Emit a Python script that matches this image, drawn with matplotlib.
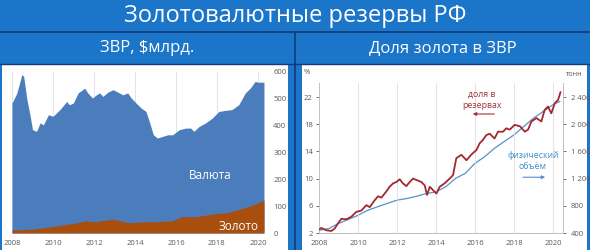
import matplotlib
matplotlib.use("Agg")
import matplotlib.pyplot as plt
from matplotlib.patches import Rectangle
from matplotlib.ticker import FuncFormatter

plt.rcParams["font.family"] = ["Open Sans", "DejaVu Sans"]

# -------------------------
# Data
# -------------------------

# left: reserves total and gold, $bn
total_years = [2008.0, 2008.24, 2008.48, 2008.57, 2008.73, 2008.89, 2009.0, 2009.2, 2009.37,
               2009.53, 2009.78, 2010.0, 2010.34, 2010.67, 2010.8, 2010.99, 2011.23, 2011.55,
               2011.7, 2011.93, 2012.12, 2012.28, 2012.44, 2012.68, 2012.93, 2013.17, 2013.41,
               2013.65, 2013.82, 2014.06, 2014.3, 2014.54, 2014.7, 2014.9, 2015.1, 2015.35,
               2015.6, 2015.84, 2016.16, 2016.48, 2016.72, 2016.88, 2017.13, 2017.45, 2017.77,
               2018.1, 2018.42, 2018.74, 2019.07, 2019.39, 2019.63, 2019.87, 2020.0, 2020.3]
total_values = [484, 522, 590, 584, 497, 435, 385, 379, 410,
                403, 441, 435, 460, 490, 478, 484, 522, 540,
                522, 503, 515, 522, 509, 525, 534, 525, 515,
                522, 503, 484, 466, 453, 416, 366, 354, 360,
                366, 366, 385, 391, 391, 379, 397, 410, 428,
                453, 457, 460, 478, 522, 540, 565, 562, 562]

gold_years = [2008.0, 2009.0, 2010.0, 2011.0, 2011.6, 2012.0, 2012.9, 2013.3, 2013.6, 2014.0,
              2014.5, 2015.0, 2015.8, 2016.3, 2017.0, 2017.5, 2018.0, 2018.5, 2019.0, 2019.5,
              2020.0, 2020.3]
gold_values = [11, 14, 24, 36, 45, 42, 51, 46, 39, 39,
               42, 42, 45, 61, 61, 67, 73, 76, 86, 98,
               111, 123]

# right: gold share in reserves, %
share_years = [2008.0, 2008.12, 2008.38, 2008.63, 2008.8, 2008.97, 2009.15, 2009.4, 2009.66,
               2009.91, 2010.17, 2010.43, 2010.6, 2010.85, 2011.03, 2011.2, 2011.45, 2011.62,
               2011.8, 2011.97, 2012.14, 2012.3, 2012.48, 2012.65, 2012.82, 2013.08, 2013.25,
               2013.42, 2013.54, 2013.68, 2013.85, 2014.02, 2014.19, 2014.44, 2014.7, 2014.87,
               2015.04, 2015.3, 2015.56, 2015.8, 2016.07, 2016.24, 2016.41, 2016.58, 2016.75,
               2017.0, 2017.18, 2017.44, 2017.6, 2017.78, 2018.03, 2018.3, 2018.55, 2018.72,
               2018.89, 2019.15, 2019.4, 2019.57, 2019.74, 2019.91, 2020.09, 2020.26, 2020.38]
share_values = [2.5, 2.74, 2.4, 2.3, 2.64, 3.4, 4.1, 4.0, 4.4,
                5.1, 5.3, 6.1, 5.8, 6.8, 7.4, 7.2, 8.1, 8.8,
                9.3, 9.5, 9.9, 9.3, 8.9, 9.5, 10.0, 9.7, 9.5,
                9.0, 7.6, 8.8, 8.3, 7.8, 8.8, 9.3, 10.0, 10.5,
                13.0, 13.5, 12.7, 13.5, 14.2, 15.2, 15.7, 16.4, 16.6,
                15.9, 16.9, 16.9, 17.4, 17.2, 17.9, 17.7, 16.9, 17.2,
                18.4, 18.9, 18.4, 20.1, 20.6, 19.6, 21.1, 21.6, 22.7]

# right: physical volume, tonnes
tonnes_years = [2008.0, 2008.5, 2009.0, 2009.5, 2010.0, 2010.5, 2011.0, 2011.5, 2012.0,
                2012.5, 2013.0, 2013.5, 2014.0, 2014.5, 2015.0, 2015.5, 2016.0, 2016.5,
                2017.0, 2017.5, 2018.0, 2018.5, 2019.0, 2019.5, 2020.0, 2020.35]
tonnes_values = [440, 465, 540, 600, 660, 735, 785, 835, 883,
                 907, 940, 980, 1005, 1080, 1203, 1277, 1425, 1523,
                 1646, 1745, 1843, 1966, 2090, 2188, 2287, 2336]

year_ticks = [2008, 2010, 2012, 2014, 2016, 2018, 2020]

# -------------------------
# Colours
# -------------------------

band = "#1b75c9"
navy = "#123a7a"
fx_blue = "#4b7dbc"
gold_col = "#a84e0e"
red_line = "#a3282f"
blue_line = "#5a90c8"
tick_col = "#595959"
grid_col = "#dedede"

W, H = 590, 250
fig = plt.figure(figsize=(W / 100, H / 100), dpi=100, facecolor=band)


def box(x0, y0, x1, y1):
    # pixel box (top-left origin) -> figure fraction rect
    return [x0 / W, 1 - y1 / H, (x1 - x0) / W, (y1 - y0) / H]


# white panels and separators
for x0, x1 in [(2, 288), (302, 587)]:
    r = box(x0, 65, x1, 250)
    fig.add_artist(Rectangle((r[0], r[1]), r[2], r[3], transform=fig.transFigure,
                             facecolor="white", edgecolor="none", zorder=0))
fig.add_artist(plt.Line2D([0, 1], [1 - 31.5 / H] * 2, color=navy, lw=1.2, zorder=1))
fig.add_artist(plt.Line2D([0, 1], [1 - 64 / H] * 2, color=navy, lw=1.0, zorder=1))
fig.add_artist(plt.Line2D([295 / W] * 2, [0, 1 - 32 / H], color=navy, lw=1.2, zorder=1))

fig.text(0.5, 1 - 16 / H, "Золотовалютные резервы РФ", color="white", fontsize=17,
         ha="center", va="center")
fig.text(147 / W, 1 - 48 / H, "ЗВР, $млрд.", color="white", fontsize=12,
         ha="center", va="center")
fig.text(443 / W, 1 - 48 / H, "Доля золота в ЗВР", color="white", fontsize=12,
         ha="center", va="center")

# -------------------------
# Left chart: stacked area
# -------------------------

ax1 = fig.add_axes(box(12, 72, 265, 233))
ax1.patch.set_alpha(0)
ax1.fill_between(total_years, 0, total_values, color=fx_blue, lw=0, zorder=2)
ax1.fill_between(gold_years, 0, gold_values, color=gold_col, lw=0, zorder=3)
ax1.set_xlim(2008, 2020.35)
ax1.set_ylim(0, 600)
ax1.set_xticks(year_ticks)
ax1.set_yticks(range(0, 601, 100))
ax1.yaxis.tick_right()
ax1.grid(axis="x", color=grid_col, lw=0.6, zorder=0)
ax1.set_axisbelow(True)
for s in ax1.spines.values():
    s.set_visible(False)
ax1.tick_params(length=0, labelsize=5.5, colors=tick_col, pad=5)
ax1.tick_params(axis="y", pad=6)
ax1.text(2017.66, 214, "Валюта", color="white", fontsize=8.5, ha="center", va="center", zorder=4)
ax1.text(2019.08, 26, "Золото", color="white", fontsize=8.5, ha="center", va="center", zorder=4)

# -------------------------
# Right chart: two lines
# -------------------------

ax2 = fig.add_axes(box(319, 83.4, 563, 233))
ax2.patch.set_alpha(0)
ax2.set_xlim(2008, 2020.51)
ax2.set_ylim(2, 24)
ax2.set_xticks(year_ticks)
ax2.set_yticks([2, 6, 10, 14, 18, 22])
ax2.grid(axis="x", color=grid_col, lw=0.6)
ax2.set_axisbelow(True)
ax3 = ax2.twinx()
ax3.set_ylim(400, 2600)
ax3.set_yticks(range(400, 2401, 400))
ax3.yaxis.set_major_formatter(FuncFormatter(lambda v, p: f"{int(v):,}".replace(",", " ")))

ax3.plot(tonnes_years, tonnes_values, color=blue_line, lw=0.9, zorder=2)
ax2.plot(share_years, share_values, color=red_line, lw=1.3, zorder=3)
ax2.set_zorder(ax3.get_zorder() + 1)

for a in (ax2, ax3):
    a.spines["top"].set_visible(False)
    for side in ("left", "right", "bottom"):
        a.spines[side].set_color("#bfbfbf")
        a.spines[side].set_linewidth(0.6)
    a.tick_params(labelsize=5.5, colors=tick_col, length=2.5, width=0.6, pad=2)
ax2.tick_params(axis="x", length=0, pad=5)
ax3.tick_params(axis="y", pad=3)

fig.text(307 / W, 1 - 73 / H, "%", color=tick_col, fontsize=5.5, ha="center", va="center")
fig.text(574 / W, 1 - 74 / H, "тонн", color=tick_col, fontsize=5, ha="center", va="center")

ax2.text(2016.36, 21.6, "доля в\nрезервах", color="#a3323c", fontsize=6.3,
         ha="center", va="center", linespacing=1.3)
ax2.annotate("", xy=(2015.74, 19.5), xytext=(2017.13, 19.5),
             arrowprops=dict(arrowstyle="-|>", color="#a3323c", lw=0.8, mutation_scale=5))
ax2.text(2018.97, 12.6, "физический\nобъём", color="#3b8ec4", fontsize=6.3,
         ha="center", va="center", linespacing=1.3)
ax2.annotate("", xy=(2019.74, 10.2), xytext=(2018.31, 10.2),
             arrowprops=dict(arrowstyle="-|>", color="#5a90c8", lw=0.8, mutation_scale=5))

fig.savefig("out.png", dpi=100, facecolor=band)
